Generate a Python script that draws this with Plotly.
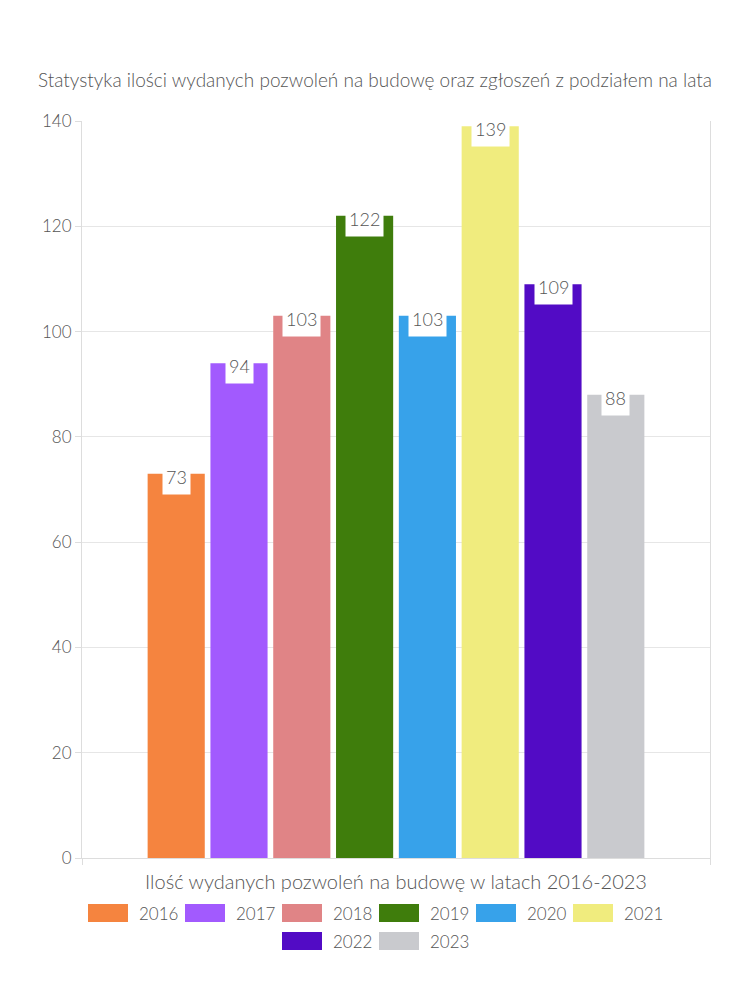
import plotly.graph_objects as go

years = ["2016", "2017", "2018", "2019", "2020", "2021", "2022", "2023"]
values = [73, 94, 103, 122, 103, 139, 109, 88]
colors = ["#F5843F", "#A25AFE", "#E08486", "#3F7D0C", "#37A2EA", "#F0EC7E", "#520BC5", "#C9CACE"]
category = "Ilość wydanych pozwoleń na budowę w latach 2016-2023"
title = "Statystyka ilości wydanych pozwoleń na budowę oraz zgłoszeń z podziałem na lata"
y_ticks = [0, 20, 40, 60, 80, 100, 120, 140]

FONT = "Lato"
GREY = "#555555"
WEIGHT = 300
bargap = 0.2
bargroupgap = 0.09

W, H = 750, 1000
ML, MR, MT, MB = 82, 40, 121, 142
PW, PH = W - ML - MR, H - MT - MB

fig = go.Figure()
for yr, v, c in zip(years, values, colors):
    fig.add_trace(go.Bar(name=yr, x=[category], y=[v], marker=dict(color=c, line=dict(width=0)),
                         showlegend=False))

# value labels (white boxes) on bar tops
n = len(years)
slot = (1 - bargap) / n
for i, v in enumerate(values):
    cx = -0.5 + bargap / 2 + (i + 0.5) * slot
    fig.add_annotation(x=cx, y=v, xref="x", yref="y", text=str(v), showarrow=False,
                       bgcolor="white", height=28, yanchor="top", yshift=15,
                       borderpad=3, valign="middle",
                       font=dict(family=FONT, size=18, color=GREY, weight=WEIGHT))

# custom legend (Chart.js style wide boxes)
rows = [years[:6], years[6:]]
row_cols = [colors[:6], colors[6:]]
item_w = 97
box_w, box_h = 40, 18
row_y = [913, 941]
for r, (ry, labels, cols) in enumerate(zip(row_y, rows, row_cols)):
    start = W / 2 - len(labels) * item_w / 2 + 4
    for j, (lab, col) in enumerate(zip(labels, cols)):
        x0 = start + j * item_w
        fig.add_shape(type="rect", xref="paper", yref="paper",
                      x0=(x0 - ML) / PW, x1=(x0 + box_w - ML) / PW,
                      y0=(H - MB - (ry + box_h / 2)) / PH, y1=(H - MB - (ry - box_h / 2)) / PH,
                      fillcolor=col, line=dict(width=0))
        fig.add_annotation(xref="paper", yref="paper", x=(x0 + box_w + 9 - ML) / PW,
                           y=(H - MB - ry) / PH, text=lab, showarrow=False,
                           xanchor="left", yanchor="middle",
                           font=dict(family=FONT, size=17, color=GREY, weight=WEIGHT))

fig.update_layout(
    width=W, height=H,
    margin=dict(l=ML, r=MR, t=MT, b=MB),
    paper_bgcolor="white", plot_bgcolor="white",
    barmode="group", bargap=bargap, bargroupgap=bargroupgap,
    title=dict(text=title, x=0.5, xanchor="center", y=1 - 80 / H, yanchor="middle",
               font=dict(family=FONT, size=19, color=GREY, weight=WEIGHT)),
    font=dict(family=FONT, color=GREY),
    showlegend=False,
)
fig.update_xaxes(showgrid=False, showline=True, linecolor="#dddddd", linewidth=1,
                 ticks="outside", ticklen=6, tickcolor="#dddddd", tickson="boundaries",
                 ticklabelstandoff=6,
                 tickfont=dict(family=FONT, size=20, color=GREY, weight=WEIGHT), range=[-0.5, 0.5])
fig.update_yaxes(range=[0, 140], tickvals=y_ticks, showgrid=True, gridcolor="#e6e6e6",
                 showline=True, linecolor="#dddddd", mirror=True, zeroline=False,
                 ticks="outside", ticklen=6, tickcolor="#dddddd",
                 tickfont=dict(family=FONT, size=17, color=GREY, weight=WEIGHT))

fig.write_html("out.html")
